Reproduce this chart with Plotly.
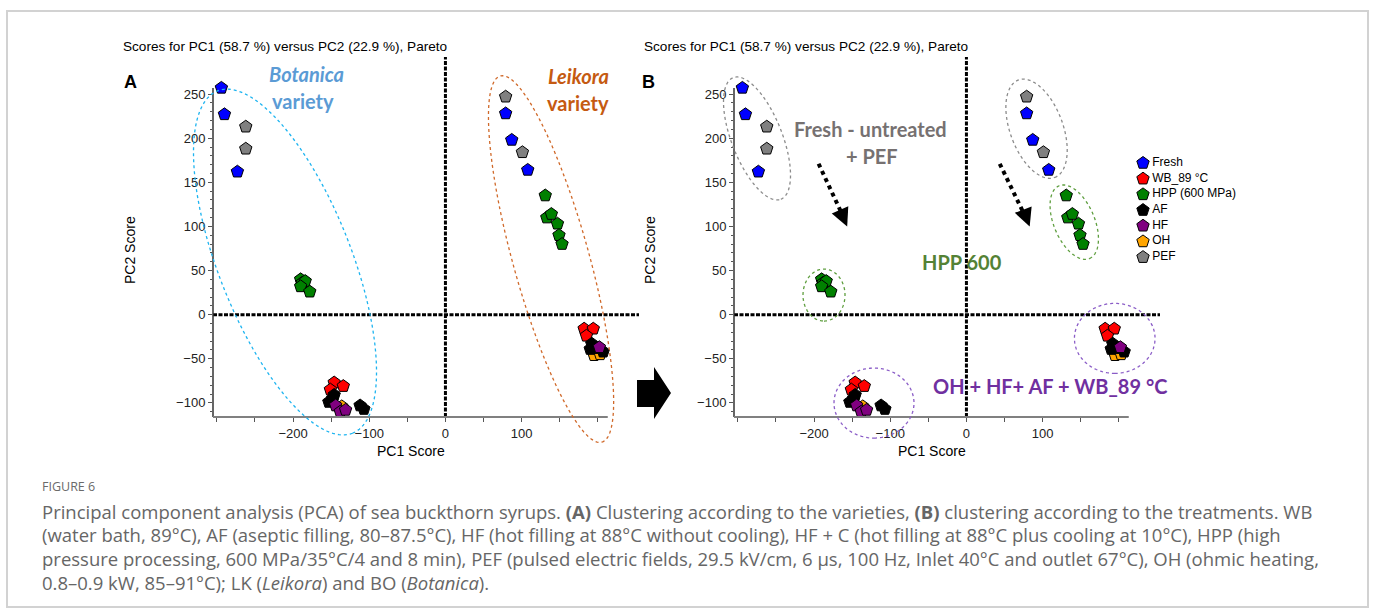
import numpy as np
import plotly.graph_objects as go

W, H = 1375, 612

# ---------------- data (PCA scores) ----------------
treatments = ["Fresh", "WB_89 °C", "HPP (600 MPa)", "AF", "HF", "OH", "PEF"]
colors = ["#0000FF", "#FF0000", "#008000", "#000000", "#800080", "#FFA500", "#808080"]

fresh_x = [-294, -290, -273, 79, 87, 108]
fresh_y = [257, 227, 162, 228, 198, 164]
wb_x = [-146, -134, -151, 182, 194, 185]
wb_y = [-77, -81, -85, -16, -16, -24]
hpp_x = [-190, -188, -184, -190, -178, 131, 133, 139, 147, 149, 153]
hpp_y = [40, 36, 38, 32, 26, 135, 110, 114, 103, 90, 80]
af_x = [-146, -153, -148, -112, -107, 192, 190, 197, 207]
af_y = [-91, -99, -95, -103, -107, -33, -39, -38, -42]
hf_x = [-144, -138, -131, 202]
hf_y = [-103, -110, -108, -37]
oh_x = [-136, -140, 195, 203]
oh_y = [-104, -117, -46, -45]
pef_x = [-262, -262, 79, 101]
pef_y = [213, 188, 247, 184]

series = {
    "Fresh": (fresh_x, fresh_y),
    "WB_89 °C": (wb_x, wb_y),
    "HPP (600 MPa)": (hpp_x, hpp_y),
    "AF": (af_x, af_y),
    "HF": (hf_x, hf_y),
    "OH": (oh_x, oh_y),
    "PEF": (pef_x, pef_y),
}
draw_order = ["OH", "WB_89 °C", "AF", "HF", "HPP (600 MPa)", "Fresh", "PEF"]

x_ticks = [-200, -100, 0, 100]
x_minor = [-300, -250, -150, -50, 50, 150, 200]
y_ticks = [-100, -50, 0, 50, 100, 150, 200, 250]
y_minor = [v for v in range(-110, 251, 10) if v % 50 != 0]

title_text = "Scores for PC1 (58.7 %) versus PC2 (22.9 %), Pareto"

# ---------------- layout geometry ----------------
XR = [-305, 254]
YR = [-116, 292]
A_DOM = (213, 639)
B_DOM = (734, 1160)
Y_TOP, Y_BOT = 57, 417
AXIS_FONT = "Liberation Sans, Arial, sans-serif"
ANN_FONT = "Lato, Open Sans, sans-serif"


def px(x, dom):
    return dom[0] + (x - XR[0]) / (XR[1] - XR[0]) * (dom[1] - dom[0])


def py(y):
    return Y_BOT - (y - YR[0]) / (YR[1] - YR[0]) * (Y_BOT - Y_TOP)


def P(xp, yp):
    return xp / W, 1 - yp / H


def path_from_px(pts, close=True):
    s = ""
    for i, (a, b) in enumerate(pts):
        X, Y = P(a, b)
        s += ("M" if i == 0 else "L") + f"{X:.5f},{Y:.5f} "
    return s + ("Z" if close else "")


def ellipse_shape(cx, cy, dom, a, b, phi_deg, color, width=1.3):
    phi = np.radians(phi_deg)
    c_x, c_y = px(cx, dom), py(cy)
    t = np.linspace(0, 2 * np.pi, 160)
    xs = c_x + a * np.cos(t) * np.sin(phi) + b * np.sin(t) * np.cos(phi)
    ys = c_y + a * np.cos(t) * np.cos(phi) - b * np.sin(t) * np.sin(phi)
    return dict(type="path", xref="paper", yref="paper",
                path=path_from_px(list(zip(xs, ys))),
                line=dict(color=color, width=width, dash="dot"))


fig = go.Figure()

for panel, (xa, ya) in enumerate([("x", "y"), ("x2", "y2")]):
    for name in draw_order:
        xs, ys = series[name]
        col = colors[treatments.index(name)]
        fig.add_trace(go.Scatter(
            x=xs, y=ys, mode="markers", xaxis=xa, yaxis=ya, showlegend=False,
            cliponaxis=False, name=name,
            marker=dict(symbol="pentagon", size=13, color=col,
                        line=dict(color="black", width=1))))

# custom legend (panel B)
leg_y = [-i for i in range(len(treatments))]
fig.add_trace(go.Scatter(
    x=[7] * len(treatments), y=leg_y, mode="markers+text", xaxis="x3", yaxis="y3",
    text=treatments, textposition="middle right", showlegend=False, cliponaxis=False,
    textfont=dict(family=AXIS_FONT, size=12, color="black"),
    marker=dict(symbol="pentagon", size=13, color=colors,
                line=dict(color="black", width=1))))

axis_common = dict(range=XR, showgrid=False, zeroline=False, showline=False,
                   tickvals=x_ticks, ticks="outside", ticklen=4, tickcolor="#555",
                   tickfont=dict(family=AXIS_FONT, size=13, color="#222"),
                   minor=dict(tickvals=x_minor, ticks="outside", ticklen=4, tickcolor="#555"))
yaxis_common = dict(range=YR, showgrid=False, zeroline=False, showline=False,
                    tickvals=y_ticks, ticks="outside", ticklen=4, tickcolor="#555",
                    tickfont=dict(family=AXIS_FONT, size=13, color="#222"),
                    minor=dict(tickvals=y_minor, ticks="outside", ticklen=2, tickcolor="#555"),
                    domain=[1 - Y_BOT / H, 1 - Y_TOP / H])

fig.update_layout(
    width=W, height=H, margin=dict(l=0, r=0, t=0, b=0),
    paper_bgcolor="white", plot_bgcolor="rgba(0,0,0,0)",
    xaxis=dict(axis_common, domain=[A_DOM[0] / W, A_DOM[1] / W], anchor="y"),
    yaxis=dict(yaxis_common, anchor="x"),
    xaxis2=dict(axis_common, domain=[B_DOM[0] / W, B_DOM[1] / W], anchor="y2"),
    yaxis2=dict(yaxis_common, anchor="x2"),
    xaxis3=dict(domain=[1136 / W, 1256 / W], range=[0, 120], visible=False, anchor="y3"),
    yaxis3=dict(domain=[1 - 265 / H, 1 - 155 / H], range=[-6.5, 0.51], visible=False, anchor="x3"),
)

shapes = []
# frame
fx0, fy0, fx1, fy1 = 7, 11, 1368, 607
shapes.append(dict(type="rect", xref="paper", yref="paper",
                   x0=fx0 / W, x1=fx1 / W, y0=1 - fy1 / H, y1=1 - fy0 / H,
                   line=dict(color="#d2d2d2", width=2), layer="below"))

for dom in (A_DOM, B_DOM):
    # zero lines
    X0, _ = P(px(0, dom), 0)
    shapes.append(dict(type="line", xref="paper", yref="paper", x0=X0, x1=X0,
                       y0=1 - Y_BOT / H, y1=1 - Y_TOP / H,
                       line=dict(color="black", width=3, dash="4px,1.5px")))
    _, Y0 = P(0, py(0))
    shapes.append(dict(type="line", xref="paper", yref="paper",
                       x0=dom[0] / W, x1=dom[1] / W, y0=Y0, y1=Y0,
                       line=dict(color="black", width=3, dash="4px,1.5px")))
    # axis lines
    shapes.append(dict(type="line", xref="paper", yref="paper",
                       x0=dom[0] / W, x1=dom[0] / W, y0=1 - Y_BOT / H, y1=1 - py(257) / H,
                       line=dict(color="#333", width=1.5)))
    shapes.append(dict(type="line", xref="paper", yref="paper",
                       x0=dom[0] / W, x1=px(213, dom) / W, y0=1 - Y_BOT / H, y1=1 - Y_BOT / H,
                       line=dict(color="#808080", width=2)))

# Panel A ellipses (varieties)
shapes.append(ellipse_shape(-210.5, 59.6, A_DOM, 184, 66.5, 21.5, "#1EB4F0"))
shapes.append(ellipse_shape(138.6, 63, A_DOM, 190, 38, 15.5, "#D0692A"))
# Panel B ellipses (treatments)
shapes.append(ellipse_shape(-274.8, 199.7, B_DOM, 65.3, 25.3, 21.4, "#8C8C8C"))
shapes.append(ellipse_shape(92, 210.7, B_DOM, 52, 26.4, 20.4, "#8C8C8C"))
shapes.append(ellipse_shape(141.5, 104.8, B_DOM, 39.4, 20.4, 22.7, "#5E9E3E"))
shapes.append(ellipse_shape(-186.9, 22.2, B_DOM, 26, 21, 0, "#5E9E3E"))
shapes.append(ellipse_shape(-121.3, -100.2, B_DOM, 35, 40, 0, "#8A5CC7"))
shapes.append(ellipse_shape(194.6, -26.9, B_DOM, 35, 40.3, 0, "#8A5CC7"))

# dotted arrows in panel B
for (x0, y0, x1, y1) in [(-194, 171, -160, 108), (43.7, 171, 79, 108)]:
    a0 = P(px(x0, B_DOM), py(y0))
    a1 = P(px(x1, B_DOM), py(y1))
    shapes.append(dict(type="line", xref="paper", yref="paper",
                       x0=a0[0], y0=a0[1], x1=a1[0], y1=a1[1],
                       line=dict(color="black", width=4, dash="dot")))
for (x0, y0, x1, y1) in [(-161, 109, -156.5, 100), (79, 109, 83, 100)]:
    fig.add_annotation(x=px(x1, B_DOM) / W, y=1 - py(y1) / H,
                       ax=px(x0, B_DOM) - px(x1, B_DOM), ay=py(y0) - py(y1),
                       xref="paper", yref="paper", axref="pixel", ayref="pixel",
                       showarrow=True, arrowhead=2, arrowsize=1.2, arrowwidth=3,
                       arrowcolor="black", text="")

# big black arrow between panels
arrow_pts = [(637, 380), (654, 380), (654, 367), (671, 393), (654, 419), (654, 407), (637, 407)]
shapes.append(dict(type="path", xref="paper", yref="paper", path=path_from_px(arrow_pts),
                   fillcolor="black", line=dict(color="black", width=0)))

fig.update_layout(shapes=shapes)


def ann(xp, yp, text, size, color="black", family=AXIS_FONT, xanchor="center", angle=0):
    X, Y = P(xp, yp)
    fig.add_annotation(x=X, y=Y, xref="paper", yref="paper", text=text, showarrow=False,
                       xanchor=xanchor, yanchor="middle", textangle=angle,
                       font=dict(family=family, size=size, color=color))


for dx in (0, 521):
    ann(285 + dx, 47, title_text, 13.6)
    ann(411 + dx, 451, "PC1 Score", 14)
    ann(130 + dx if dx == 0 else 650, 250, "PC2 Score", 14, angle=-90)
ann(130, 82, "<b>A</b>", 18)
ann(648, 82, "<b>B</b>", 18)

ann(306, 74, "<b><i>Botanica</i></b>", 20, "#5B9BD5", ANN_FONT)
ann(303, 101, "<b>variety</b>", 20, "#5B9BD5", ANN_FONT)
ann(578, 76, "<b><i>Leikora</i></b>", 20, "#C55A11", ANN_FONT)
ann(578, 103, "<b>variety</b>", 20, "#C55A11", ANN_FONT)
ann(870, 129, "<b>Fresh - untreated</b>", 20, "#767171", ANN_FONT)
ann(872, 156, "<b>+ PEF</b>", 20, "#767171", ANN_FONT)
ann(962, 262, "<b>HPP 600</b>", 20, "#548235", ANN_FONT)
ann(1050, 386, "<b>OH + HF+ AF + WB_89 °C</b>", 20, "#7030A0", ANN_FONT)

# caption
CAP = "Open Sans, Noto Sans, sans-serif"
ann(40, 487, "FIGURE 6", 12.5, "#6a6a6a", CAP, xanchor="left")
cap_lines = [
    "Principal component analysis (PCA) of sea buckthorn syrups. <b>(A)</b> Clustering according to the varieties, <b>(B)</b> clustering according to the treatments. WB",
    "(water bath, 89°C), AF (aseptic filling, 80–87.5°C), HF (hot filling at 88°C without cooling), HF + C (hot filling at 88°C plus cooling at 10°C), HPP (high",
    "pressure processing, 600 MPa/35°C/4 and 8 min), PEF (pulsed electric fields, 29.5 kV/cm, 6 µs, 100 Hz, Inlet 40°C and outlet 67°C), OH (ohmic heating,",
    "0.8–0.9 kW, 85–91°C); LK (<i>Leikora</i>) and BO (<i>Botanica</i>).",
]
for i, line in enumerate(cap_lines):
    ann(40, 511 + 23.7 * i, line, 18.5, "#666666", CAP, xanchor="left")

fig.write_html("out.html", config={"displayModeBar": False},
               post_script="document.body.style.margin='0';document.body.style.overflow='hidden';")
